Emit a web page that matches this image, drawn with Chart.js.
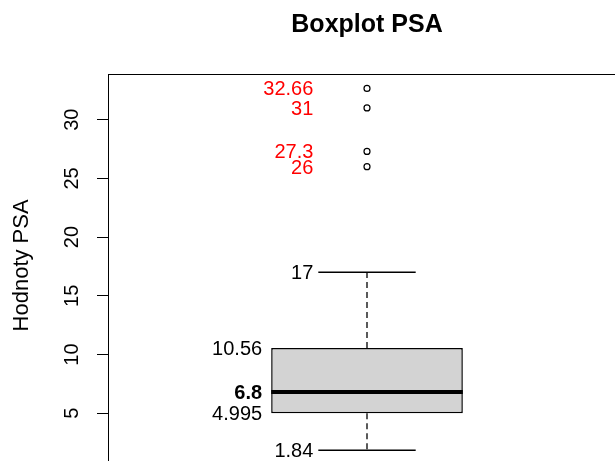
<!DOCTYPE html>
<html><head><meta charset="utf-8">
<script src="https://cdn.jsdelivr.net/npm/chart.js@4.4.1/dist/chart.umd.min.js"></script>
<style>
html,body{margin:0;padding:0;background:#fff;overflow:hidden}
#wrap{width:615px;height:461px;overflow:hidden;position:relative;background:#fff}
canvas{display:block}
</style>
</head><body><div id="wrap"><canvas id="c" width="640" height="470"></canvas></div>
<script>
// ---- data ----
const titleText = "Boxplot PSA";
const yAxisTitle = "Hodnoty PSA";
const yTickValues = [5, 10, 15, 20, 25, 30];
// lower whisker, Q1, median, Q3, upper whisker
const boxStats = [1.84, 4.995, 6.8, 10.56, 17];
const statLabels = ["1.84", "4.995", "6.8", "10.56", "17"];
const outliers = [26, 27.3, 31, 32.66];
const outlierLabels = ["26", "27.3", "31", "32.66"];

// ---- layout constants (styles, not data) ----
const X_MIN = 0.5, X_MAX = 1.5, BOX_POS = 1;
const BOX_HALF = 0.185, STAPLE_HALF = 0.094;
const FONT = '"Liberation Sans", Arial, sans-serif';

const [wLo, q1, med, q3, wHi] = boxStats;
const allVals = boxStats.concat(outliers);
const dMin = Math.min(...allVals), dMax = Math.max(...allVals);
const ext = 0.04 * (dMax - dMin);

const decor = {
  id: 'decor',
  beforeDraw(chart) {
    const c = chart.ctx; c.save();
    c.fillStyle = '#fff'; c.fillRect(0, 0, chart.width, chart.height);
    c.restore();
  },
  afterDraw(chart) {
    const c = chart.ctx, a = chart.chartArea, xs = chart.scales.x, ys = chart.scales.y;
    c.save();
    // frame
    c.strokeStyle = '#000'; c.lineWidth = 1;
    c.strokeRect(a.left + 0.5, a.top + 0.5, a.right - a.left, a.bottom - a.top);
    // title
    c.fillStyle = '#000';
    c.font = 'bold 25px ' + FONT;
    c.textAlign = 'center'; c.textBaseline = 'alphabetic';
    c.fillText(titleText, (a.left + a.right) / 2, 32);
    // y tick labels (rotated)
    c.font = '20px ' + FONT;
    ys.ticks.forEach(t => {
      const py = ys.getPixelForValue(t.value);
      c.save(); c.translate(78, py); c.rotate(-Math.PI / 2);
      c.textAlign = 'center'; c.fillText(String(t.value), 0, 0);
      c.restore();
    });
    // y axis title
    c.font = '22px ' + FONT;
    c.save(); c.translate(28, (a.top + a.bottom) / 2 - 4); c.rotate(-Math.PI / 2);
    c.textAlign = 'center'; c.fillText(yAxisTitle, 0, 0);
    c.restore();
    // stat labels
    c.textAlign = 'right';
    const boxLeftPx = xs.getPixelForValue(BOX_POS - BOX_HALF);
    const stapleLeftPx = xs.getPixelForValue(BOX_POS - STAPLE_HALF);
    boxStats.forEach((v, i) => {
      const isBox = (i >= 1 && i <= 3);
      const px = isBox ? boxLeftPx - 9 : stapleLeftPx - 5;
      c.font = (i === 2 ? 'bold ' : '') + '20px ' + FONT;
      c.fillStyle = '#000';
      c.fillText(statLabels[i], px, ys.getPixelForValue(v) + 7);
    });
    c.font = '20px ' + FONT; c.fillStyle = '#ff0000';
    outliers.forEach((v, i) => {
      c.fillText(outlierLabels[i], stapleLeftPx - 5, ys.getPixelForValue(v) + 7);
    });
    c.restore();
  }
};

new Chart(document.getElementById('c'), {
  type: 'scatter',
  data: {
    datasets: [
      {
        type: 'bar',
        data: [{ x: BOX_POS, y: [q1, q3] }],
        backgroundColor: '#d3d3d3', borderColor: '#000', borderWidth: 1.5,
        borderSkipped: false,
        barPercentage: 2 * BOX_HALF / (X_MAX - X_MIN), categoryPercentage: 1,
        order: 10
      },
      {
        type: 'line',
        data: [{ x: BOX_POS, y: q3 }, { x: BOX_POS, y: wHi }, { x: BOX_POS, y: null },
               { x: BOX_POS, y: q1 }, { x: BOX_POS, y: wLo }],
        borderColor: '#000', borderWidth: 1.3, borderDash: [6, 4],
        pointRadius: 0, spanGaps: false, fill: false, tension: 0, order: 12
      },
      {
        type: 'line',
        data: [{ x: BOX_POS - STAPLE_HALF, y: wHi }, { x: BOX_POS + STAPLE_HALF, y: wHi }, { x: BOX_POS, y: null },
               { x: BOX_POS - STAPLE_HALF, y: wLo }, { x: BOX_POS + STAPLE_HALF, y: wLo }],
        borderColor: '#000', borderWidth: 1.5,
        pointRadius: 0, spanGaps: false, fill: false, tension: 0, order: 5
      },
      {
        type: 'line',
        data: [{ x: BOX_POS - BOX_HALF, y: med }, { x: BOX_POS + BOX_HALF, y: med }],
        borderColor: '#000', borderWidth: 4, borderCapStyle: 'butt',
        pointRadius: 0, fill: false, order: 1
      },
      {
        type: 'scatter',
        data: outliers.map(v => ({ x: BOX_POS, y: v })),
        pointRadius: 3, pointStyle: 'circle',
        pointBackgroundColor: 'rgba(0,0,0,0)', pointBorderColor: '#000', pointBorderWidth: 1.2,
        order: 0
      }
    ]
  },
  options: {
    responsive: false, animation: false, devicePixelRatio: 1,
    layout: { padding: { left: 0, top: 74, right: 14, bottom: 4 } },
    plugins: { legend: { display: false }, tooltip: { enabled: false }, title: { display: false } },
    scales: {
      x: {
        type: 'linear', min: X_MIN, max: X_MAX, display: false, offset: false,
        afterBuildTicks: s => { s.ticks = [{ value: BOX_POS }]; }
      },
      y: {
        type: 'linear', min: dMin - ext, max: dMax + ext,
        afterBuildTicks: s => { s.ticks = yTickValues.map(v => ({ value: v })); },
        afterFit: s => { s.width = 108; },
        ticks: { display: false },
        grid: { drawOnChartArea: false, drawTicks: true, tickLength: 11, color: '#000', lineWidth: 1 },
        border: { display: true, color: '#000', width: 1 }
      }
    }
  },
  plugins: [decor]
});
</script>
</body></html>
